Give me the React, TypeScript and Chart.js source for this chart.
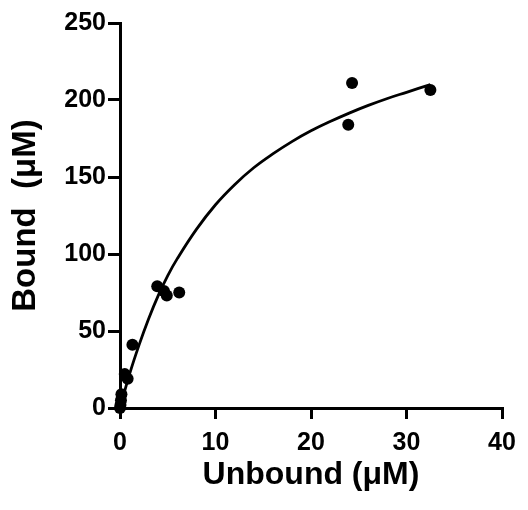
import React, { useEffect, useRef } from "react";
import { Chart, registerables } from "chart.js";

Chart.register(...registerables);

// Measured binding data (Unbound µM, Bound µM)
const unbound = [0.0, 0.05, 0.1, 0.15, 0.5, 0.8, 1.3, 3.9, 4.6, 4.9, 6.2, 23.9, 24.3, 32.5];
const bound = [0, 2, 5, 9, 22, 19, 41, 79, 76, 73, 75, 184, 211, 206.5];

// Fitted saturation curve
const fitX = [0, 1, 2, 3, 4, 5, 6, 8, 10, 12, 14, 16, 18, 20, 22, 24, 26, 28, 30, 32.5];
const fitY = [0, 22, 41, 58, 73, 86, 97, 116, 132, 145, 156, 165, 173, 180, 186, 191.5, 196.5, 201, 205, 210];

const xTicks = [0, 10, 20, 30, 40];
const yTicks = [0, 50, 100, 150, 200, 250];

const FONT = "'Liberation Sans', Arial, sans-serif";

export default function App() {
  const ref = useRef<HTMLCanvasElement | null>(null);

  useEffect(() => {
    if (!ref.current) return;
    const points = unbound.map((x, i) => ({ x, y: bound[i] }));
    const curve = fitX.map((x, i) => ({ x, y: fitY[i] }));
    const chart = new Chart(ref.current, {
      type: "scatter",
      data: {
        datasets: [
          {
            type: "line",
            data: curve,
            borderColor: "#000",
            borderWidth: 2.8,
            pointRadius: 0,
            tension: 0.4,
            fill: false,
            clip: false,
          } as any,
          {
            data: points,
            backgroundColor: "#000",
            borderColor: "#000",
            borderWidth: 0,
            pointRadius: 6,
            clip: false,
          } as any,
        ],
      },
      options: {
        responsive: false,
        animation: false,
        devicePixelRatio: 1,
        layout: { padding: { top: 23, right: 26, left: 0, bottom: 0 } },
        plugins: { legend: { display: false }, tooltip: { enabled: false } },
        scales: {
          x: {
            type: "linear",
            min: 0,
            max: 40,
            afterBuildTicks: (s: any) => {
              s.ticks = xTicks.map((v) => ({ value: v }));
            },
            afterFit: (s: any) => {
              s.height = 102;
            },
            border: { display: true, color: "#000", width: 3 },
            grid: {
              drawOnChartArea: false,
              drawTicks: true,
              tickLength: 11,
              color: "#000",
              lineWidth: 3,
            },
            ticks: {
              color: "#000",
              padding: 9,
              font: { family: FONT, size: 25, weight: "bold" },
              maxRotation: 0,
            },
            title: {
              display: true,
              text: "Unbound (\u03bcM)",
              color: "#000",
              font: { family: FONT, size: 32, weight: "bold" },
              padding: { top: 0, bottom: 16 },
            },
          },
          y: {
            type: "linear",
            min: 0,
            max: 250,
            afterBuildTicks: (s: any) => {
              s.ticks = yTicks.map((v) => ({ value: v }));
            },
            afterFit: (s: any) => {
              s.width = 120;
            },
            border: { display: true, color: "#000", width: 3 },
            grid: {
              drawOnChartArea: false,
              drawTicks: true,
              tickLength: 12,
              color: "#000",
              lineWidth: 3,
            },
            ticks: {
              color: "#000",
              padding: 2,
              font: { family: FONT, size: 25, weight: "bold" },
            },
            title: {
              display: true,
              text: "Bound  (\u03bcM)",
              color: "#000",
              font: { family: FONT, size: 33, weight: "bold" },
              padding: { top: 6, bottom: 0 },
            },
          },
        },
      },
    });
    return () => chart.destroy();
  }, []);

  return (
    <div style={{ position: "absolute", left: 0, top: 0, width: 528, height: 510, background: "#fff" }}>
      <canvas ref={ref} width={528} height={510} style={{ display: "block" }} />
    </div>
  );
}
